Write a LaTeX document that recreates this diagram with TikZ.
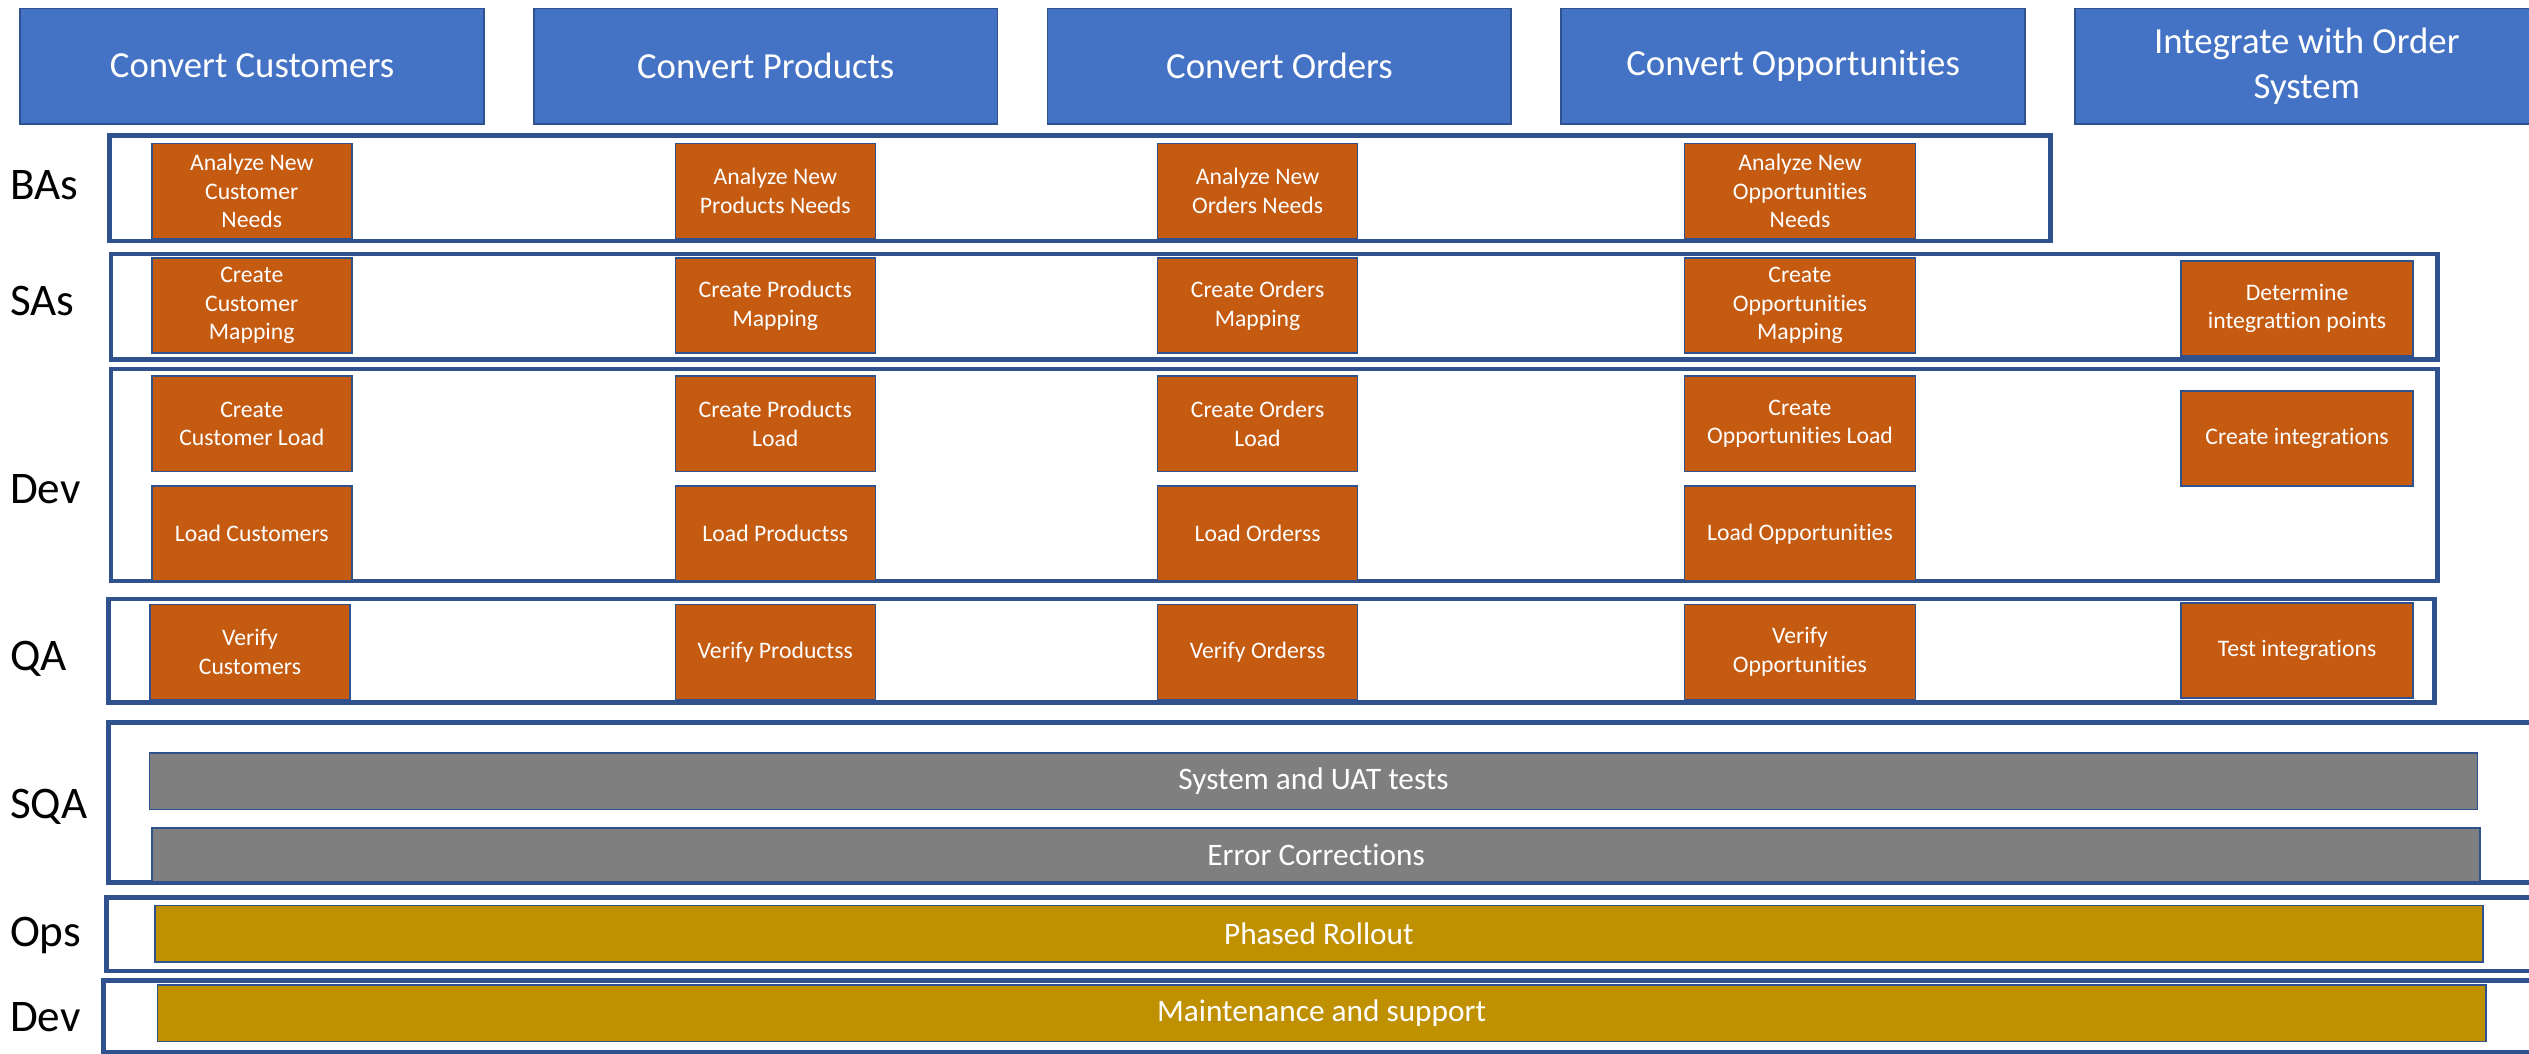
\documentclass[tikz,border=0pt]{standalone}
\usepackage{fontspec}
\setmainfont{Carlito}[Ligatures=NoCommon]

\definecolor{headblue}{HTML}{4472C4}
\definecolor{lineblue}{HTML}{2F528F}
\definecolor{taskorange}{HTML}{C55A11}
\definecolor{bargray}{HTML}{7F7F7F}
\definecolor{bargold}{HTML}{BF9000}

\begin{document}
\begin{tikzpicture}[x=1pt,y=-1pt,
    head/.style={draw=lineblue, line width=1pt, fill=headblue, text=white, align=center, inner sep=0pt,
      minimum width=287.5pt, minimum height=71.7pt, font=\fontsize{22.8}{27.8}\selectfont},
    lane/.style={draw=lineblue, line width=3pt},
    lanelabel/.style={anchor=base west, inner sep=0pt, font=\fontsize{28}{34}\selectfont},
    task/.style={draw=lineblue, line width=1pt, fill=taskorange, text=white, align=center, inner sep=0pt,
      minimum width=124pt, minimum height=59pt, font=\fontsize{14.7}{17.6}\selectfont},
    widetask/.style={task, minimum width=144pt},
    bar/.style={draw=lineblue, line width=1pt, text=white, inner sep=0pt,
      minimum width=1443.5pt, minimum height=35pt, font=\fontsize{19.4}{23.5}\selectfont}]
      \clip (0,0) rectangle (1568,653);

      \node[head] (hCust) at (156.25,41) {Convert Customers};
      \node[head] (hProd) at (474.75,41) {Convert Products};
      \node[head] (hOrd) at (793.25,41) {Convert Orders};
      \node[head] (hOpp) at (1111.75,41) {Convert Opportunities};
      \node[head] (hInt) at (1430.25,41) {Integrate with Order\\System};

      \draw[lane] (68,84.2) rectangle (1271.4,149.4);
      \draw[lane] (68.8,157.5) rectangle (1511,222.7);
      \draw[lane] (68.8,228.8) rectangle (1511,360.2);
      \draw[lane] (67.1,371.4) rectangle (1509.2,435.6);
      \draw[lane] (67.1,447.9) rectangle (1580,547.2);
      \draw[lane] (66,556.4) rectangle (1580,602);
      \draw[lane] (64.1,608.1) rectangle (1580,652.5);

      \node[lanelabel] (lBA) at (6,124) {BAs};
      \node[lanelabel] (lSA) at (6,195.3) {SAs};
      \node[lanelabel] (lDev) at (6,312) {Dev};
      \node[lanelabel] (lQA) at (6,415.4) {QA};
      \node[lanelabel] (lSQA) at (6,507.4) {SQA};
      \node[lanelabel] (lOps) at (6,587) {Ops};
      \node[lanelabel] (lDevB) at (6,639.6) {Dev};

      \node[task] (anaCust) at (156.1,118.4) {Analyze New\\Customer\\Needs};
      \node[task] (mapCust) at (156.1,189.5) {Create\\Customer\\Mapping};
      \node[task] (crCust) at (156.1,262.8) {Create\\Customer Load};
      \node[task] (ldCust) at (156.1,330.9) {Load Customers};
      \node[task] (verCust) at (155,404.2) {Verify\\Customers};

      \node[task] (anaProd) at (480.7,118.4) {Analyze New\\Products Needs};
      \node[task] (mapProd) at (480.7,189.5) {Create Products\\Mapping};
      \node[task] (crProd) at (480.7,262.8) {Create Products\\Load};
      \node[task] (ldProd) at (480.7,330.9) {Load Productss};
      \node[task] (verProd) at (480.7,404.2) {Verify Productss};

      \node[task] (anaOrd) at (779.7,118.4) {Analyze New\\Orders Needs};
      \node[task] (mapOrd) at (779.7,189.5) {Create Orders\\Mapping};
      \node[task] (crOrd) at (779.7,262.8) {Create Orders\\Load};
      \node[task] (ldOrd) at (779.7,330.9) {Load Orderss};
      \node[task] (verOrd) at (779.7,404.2) {Verify Orderss};

      \node[widetask, minimum width=143.4pt] (anaOpp) at (1116,118.4) {Analyze New\\Opportunities\\Needs};
      \node[widetask, minimum width=143.4pt] (mapOpp) at (1116,189.5) {Create\\Opportunities\\Mapping};
      \node[widetask, minimum width=143.4pt] (crOpp) at (1116,262.8) {Create\\Opportunities Load};
      \node[widetask, minimum width=143.4pt] (ldOpp) at (1116,330.9) {Load Opportunities};
      \node[widetask, minimum width=143.4pt] (verOpp) at (1116,404.2) {Verify\\Opportunities};

      \node[widetask] (detInt) at (1424.2,191.2) {Determine\\integrattion points};
      \node[widetask] (crInt) at (1424.2,272) {Create integrations};
      \node[widetask] (testInt) at (1424.2,403.3) {Test integrations};

      \node[bar, fill=bargray] (sysTest) at (814.4,484.5) {System and UAT tests};
      \node[bar, fill=bargray, minimum height=33.8pt] (errCorr) at (816,530.1) {Error Corrections};
      \node[bar, fill=bargold] (rollout) at (817.7,578.9) {Phased Rollout};
      \node[bar, fill=bargold] (maint) at (819.4,628.3) {Maintenance and support};
    \end{tikzpicture}
\end{document}
